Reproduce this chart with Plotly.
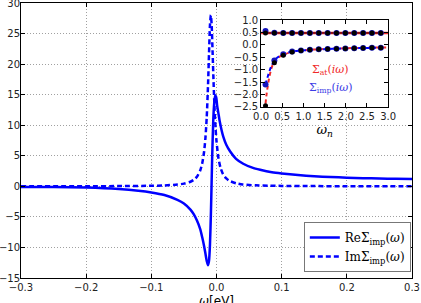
import plotly.graph_objects as go

# ---------------- main panel data ----------------
omega_re = [-0.30, -0.25, -0.20, -0.15, -0.12, -0.10, -0.08, -0.06, -0.05, -0.04,
            -0.035, -0.030, -0.025, -0.022, -0.019, -0.017, -0.015, -0.013, -0.0115,
            -0.010, -0.0085, -0.0075, -0.0065, -0.005, -0.0035, -0.002, -0.0005,
            0.001, 0.003, 0.005, 0.008, 0.0105, 0.015, 0.021, 0.030, 0.041, 0.055,
            0.067, 0.085, 0.10, 0.125, 0.15, 0.175, 0.20, 0.225, 0.25, 0.275, 0.30]
re_sigma = [-0.10, -0.12, -0.21, -0.45, -0.72, -1.0, -1.42, -2.2, -2.8, -3.8,
            -4.55, -5.6, -7.0, -8.3, -9.8, -11.0, -12.2, -12.9, -12.2,
            -9.5, -4.1, 0.6, 5.3, 10.7, 13.6, 14.9, 14.6,
            13.2, 11.9, 10.6, 9.1, 8.1, 6.8, 5.7, 4.5, 3.7, 3.05,
            2.7, 2.3, 2.1, 1.85, 1.65, 1.52, 1.42, 1.34, 1.28, 1.23, 1.18]

omega_im = [-0.30, -0.20, -0.15, -0.10, -0.08, -0.06, -0.05, -0.04, -0.035, -0.030,
            -0.025, -0.022, -0.019, -0.017, -0.015, -0.013, -0.0115, -0.010, -0.0087,
            -0.0075, -0.006, -0.0045, -0.003, -0.0015, 0.0, 0.003, 0.006, 0.010,
            0.015, 0.020, 0.030, 0.040, 0.060, 0.080, 0.10, 0.15, 0.20, 0.30]
im_sigma = [0.01, 0.02, 0.04, 0.09, 0.15, 0.29, 0.44, 0.75, 1.05, 1.57,
            2.6, 3.7, 5.7, 7.9, 11.3, 16.6, 21.7, 26.4, 28.0,
            26.6, 22.0, 17.0, 12.7, 9.6, 7.4, 4.6, 3.1, 2.0,
            1.29, 0.89, 0.5, 0.3, 0.16, 0.1, 0.07, 0.04, 0.02, 0.01]

x_ticks = [-0.3, -0.2, -0.1, 0.0, 0.1, 0.2, 0.3]
y_ticks = [-15, -10, -5, 0, 5, 10, 15, 20, 25, 30]

# ---------------- inset data ----------------
omega_cont = [0.05, 0.08, 0.10, 0.125, 0.15, 0.20, 0.25, 0.30, 0.40, 0.50, 0.70,
              1.0, 1.5, 2.0, 2.5, 3.0]
im_sigma_at = [-3.2, -2.75, -2.45, -2.05, -1.75, -1.25, -0.92, -0.72, -0.52, -0.42,
               -0.30, -0.22, -0.165, -0.135, -0.115, -0.105]
re_sigma_at_x = [0.0, 3.0]
re_sigma_at = [0.48, 0.48]

omega_n = [0.105, 0.314, 0.524, 0.733, 0.942, 1.152, 1.361, 1.571, 1.780, 1.990,
           2.199, 2.409, 2.618, 2.827]
re_imp_n = [0.56, 0.49, 0.48, 0.48, 0.48, 0.48, 0.48, 0.48, 0.48, 0.48, 0.48, 0.48, 0.48, 0.48]
im_imp_n = [-1.6, -0.63, -0.38, -0.27, -0.23, -0.20, -0.18, -0.165, -0.155, -0.145,
            -0.135, -0.127, -0.12, -0.113]
re_at_n = [0.48, 0.48, 0.48, 0.48, 0.48, 0.48, 0.48, 0.48, 0.48, 0.48, 0.48, 0.48, 0.48, 0.48]
im_at_n = [-2.45, -0.72, -0.42, -0.29, -0.23, -0.20, -0.18, -0.165, -0.155, -0.145,
           -0.135, -0.127, -0.12, -0.113]

BLUE = "rgb(0,0,255)"
RED = "rgb(240,40,40)"
DOTBLUE = "rgb(20,20,190)"

fig = go.Figure()

fig.add_trace(go.Scatter(x=omega_re, y=re_sigma, mode="lines",
                         line=dict(color=BLUE, width=2.5, shape="spline", smoothing=0.6),
                         name="ReΣ<sub>imp</sub>(<i>ω</i>)"))
fig.add_trace(go.Scatter(x=omega_im, y=im_sigma, mode="lines",
                         line=dict(color=BLUE, width=2.5, dash="5px,3px", shape="spline", smoothing=0.6),
                         name="ImΣ<sub>imp</sub>(<i>ω</i>)"))

# inset traces
inset = dict(xaxis="x2", yaxis="y2", showlegend=False, hoverinfo="skip")
fig.add_trace(go.Scatter(x=re_sigma_at_x, y=re_sigma_at, mode="lines",
                         line=dict(color=RED, width=2.5), **inset))
fig.add_trace(go.Scatter(x=omega_cont, y=im_sigma_at, mode="lines",
                         line=dict(color=RED, width=2, dash="4px,3px", shape="spline"), **inset))
fig.add_trace(go.Scatter(x=omega_n, y=im_imp_n, mode="lines",
                         line=dict(color=BLUE, width=2, dash="4px,3px", shape="spline"), **inset))
fig.add_trace(go.Scatter(x=omega_n, y=re_at_n, mode="lines",
                         line=dict(color="rgb(60,0,0)", width=1), **inset))
fig.add_trace(go.Scatter(x=omega_n, y=re_imp_n, mode="markers",
                         marker=dict(color=DOTBLUE, size=6), **inset))
fig.add_trace(go.Scatter(x=omega_n, y=im_imp_n, mode="markers",
                         marker=dict(color=DOTBLUE, size=6), **inset))
fig.add_trace(go.Scatter(x=omega_n, y=re_at_n, mode="markers",
                         marker=dict(color="black", size=5), **inset))
fig.add_trace(go.Scatter(x=omega_n, y=im_at_n, mode="markers",
                         marker=dict(color="black", size=5), **inset))

axis_common = dict(showline=True, linecolor="black", linewidth=1, mirror="ticks", ticks="inside",
                   ticklen=4, tickcolor="black", zeroline=False, automargin=False,
                   ticklabeloverflow="allow",
                   tickfont=dict(family="DejaVu Sans", size=10, color="#222222"))

fig.update_layout(
    width=421, height=303,
    margin=dict(l=21, r=9, t=3, b=25),
    paper_bgcolor="white", plot_bgcolor="white",
    xaxis=dict(range=[-0.3, 0.3], tickvals=x_ticks, tickformat=".1f", showgrid=True,
               gridcolor="#a0a0a0", griddash="1px,2px", gridwidth=1,
               **axis_common),
    yaxis=dict(range=[-15, 30], tickvals=y_ticks, showgrid=True, ticklabelstandoff=-2,
               gridcolor="#a0a0a0", griddash="1px,2px", gridwidth=1, **axis_common),
    xaxis2=dict(domain=[0.614, 0.939], anchor="y2", range=[0, 3], dtick=0.5, tickformat=".1f",
                showgrid=False,
                title=dict(text="<i>ω<sub>n</sub></i>", font=dict(family="DejaVu Serif", size=13, color="black"), standoff=0),
                **axis_common),
    yaxis2=dict(domain=[0.622, 0.938], anchor="x2", range=[-2.5, 1.0], dtick=0.5, tickformat=".1f",
                showgrid=False, **axis_common),
    legend=dict(x=0.997, y=0.022, xanchor="right", yanchor="bottom", bgcolor="white",
                bordercolor="#777777", borderwidth=1,
                font=dict(family="DejaVu Serif", size=12, color="black"),
                itemwidth=30, tracegroupgap=2),
    shapes=[dict(type="rect", xref="x2 domain", yref="y2 domain", x0=0, x1=1, y0=0, y1=1,
                 fillcolor="white", line=dict(width=0), layer="below")],
    annotations=[
        dict(text="Σ<sub>at</sub>(<i>iω</i>)", xref="x2", yref="y2", x=1.65, y=-1.0, showarrow=False,
             font=dict(family="DejaVu Serif", size=11, color=RED)),
        dict(text="Σ<sub>imp</sub>(<i>iω</i>)", xref="x2", yref="y2", x=1.65, y=-1.75, showarrow=False,
             font=dict(family="DejaVu Serif", size=11, color="rgb(60,60,230)")),
        dict(text="<i>ω</i>[eV]", xref="paper", yref="paper", x=0.5, y=-0.05, xanchor="center",
             yanchor="top", showarrow=False,
             font=dict(family="DejaVu Sans", size=12, color="black")),
    ],
)

fig.write_html("out.html")
